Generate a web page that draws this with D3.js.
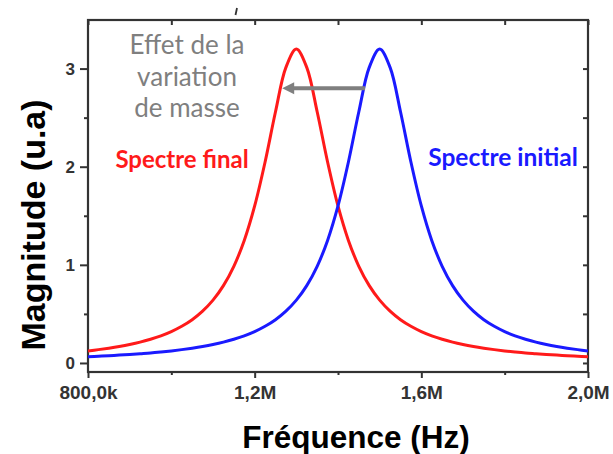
<!DOCTYPE html>
<html>
<head>
<meta charset="utf-8">
<script src="https://cdn.jsdelivr.net/npm/d3@7"></script>
<style>
  html, body { margin: 0; padding: 0; background: #fff; }
  svg { display: block; }
</style>
</head>
<body>
<svg id="chart" width="613" height="454"></svg>
<script>
// Frequency grid (kHz) shared by both spectra
const freqK = [800, 825, 850, 875, 900, 925, 950, 975, 1000, 1025, 1050, 1075,
  1100, 1125, 1150, 1175, 1200, 1225, 1250, 1275, 1300, 1325, 1350, 1375,
  1400, 1425, 1450, 1475, 1500, 1525, 1550, 1575, 1600, 1625, 1650, 1675,
  1700, 1725, 1750, 1775, 1800, 1825, 1850, 1875, 1900, 1925, 1950, 1975, 2000];

// Final spectrum (after mass change), resonance near 1.3 MHz
const finalMag = [0.123, 0.136, 0.151, 0.168, 0.188, 0.212, 0.242, 0.277, 0.320, 0.374, 0.441, 0.528,
  0.640, 0.788, 0.985, 1.249, 1.600, 2.048, 2.560, 3.012, 3.200, 3.012, 2.560, 2.048,
  1.600, 1.249, 0.985, 0.788, 0.640, 0.528, 0.441, 0.374, 0.320, 0.277, 0.242, 0.212,
  0.188, 0.168, 0.151, 0.136, 0.123, 0.112, 0.102, 0.094, 0.086, 0.080, 0.074, 0.069, 0.064];

// Initial spectrum, resonance near 1.5 MHz
const initialMag = [0.064, 0.069, 0.074, 0.080, 0.086, 0.094, 0.102, 0.112, 0.123, 0.136, 0.151, 0.168,
  0.188, 0.212, 0.242, 0.277, 0.320, 0.374, 0.441, 0.528, 0.640, 0.788, 0.985, 1.249,
  1.600, 2.048, 2.560, 3.012, 3.200, 3.012, 2.560, 2.048, 1.600, 1.249, 0.985, 0.788,
  0.640, 0.528, 0.441, 0.374, 0.320, 0.277, 0.242, 0.212, 0.188, 0.168, 0.151, 0.136, 0.123];

// Axis ticks
const xMajorTicks = [800000, 1200000, 1600000, 2000000];
const xTickLabels = ["800,0k", "1,2M", "1,6M", "2,0M"];
const xMinorTicks = [1000000, 1400000, 1800000];
const yMajorTicks = [0, 1, 2, 3];
const yMinorTicks = [0.5, 1.5, 2.5];

// Annotation texts
const shiftNote = ["Effet de la", "variation", "de masse"];
const finalLabel = "Spectre final";
const initialLabel = "Spectre initial";
// Arrow from initial peak flank to final peak flank (Hz, magnitude)
const shiftArrow = { from: [1465000, 2.80], to: [1266000, 2.80] };

const svg = d3.select("#chart");
const plotL = 88, plotR = 588, plotT = 20, plotB = 372;

const x = d3.scaleLinear().domain([800000, 2000000]).range([plotL, plotR]);
const y = d3.scaleLinear().domain([-0.092, 3.495]).range([plotB, plotT]);

const axisColor = "#333";
const tickFont = "'Liberation Sans', Arial, sans-serif";

function styleAxis(size) {
  return g => {
    g.select(".domain").remove();
    g.selectAll("line").attr("stroke", axisColor).attr("stroke-width", 2);
    g.selectAll("text")
      .attr("fill", axisColor)
      .attr("font-family", tickFont)
      .attr("font-weight", "bold")
      .attr("font-size", size);
  };
}

// Bottom axis
svg.append("g").attr("transform", `translate(0,${plotB})`)
  .call(d3.axisBottom(x).tickValues(xMajorTicks).tickSize(6).tickPadding(8)
    .tickFormat((d, i) => xTickLabels[i]))
  .call(styleAxis(19));
svg.append("g").attr("transform", `translate(0,${plotB})`)
  .call(d3.axisBottom(x).tickValues(xMinorTicks).tickSize(3).tickFormat(""))
  .call(styleAxis(19));

// Top axis, ticks inward
svg.append("g").attr("transform", `translate(0,${plotT})`)
  .call(d3.axisTop(x).tickValues(xMajorTicks.concat(xMinorTicks)).tickSize(-5).tickFormat(""))
  .call(styleAxis(19));

// Left axis
svg.append("g").attr("transform", `translate(${plotL},0)`)
  .call(d3.axisLeft(y).tickValues(yMajorTicks).tickSize(8).tickPadding(5).tickFormat(d3.format("d")))
  .call(styleAxis(17));
svg.append("g").attr("transform", `translate(${plotL},0)`)
  .call(d3.axisLeft(y).tickValues(yMinorTicks).tickSize(4).tickFormat(""))
  .call(styleAxis(17));

// Right axis, ticks inward
svg.append("g").attr("transform", `translate(${plotR},0)`)
  .call(d3.axisRight(y).tickValues(yMajorTicks.concat(yMinorTicks)).tickSize(-5).tickFormat(""))
  .call(styleAxis(17));

// Frame
svg.append("rect")
  .attr("x", plotL).attr("y", plotT)
  .attr("width", plotR - plotL).attr("height", plotB - plotT)
  .attr("fill", "none").attr("stroke", axisColor).attr("stroke-width", 2.2);

// Small stray mark above the frame
svg.append("line").attr("x1", 237).attr("y1", 8).attr("x2", 235.5).attr("y2", 15)
  .attr("stroke", axisColor).attr("stroke-width", 1.8);

// Spectra
const clipId = "plotClip";
svg.append("clipPath").attr("id", clipId).append("rect")
  .attr("x", plotL).attr("y", plotT).attr("width", plotR - plotL).attr("height", plotB - plotT);

const line = d3.line()
  .x((d, i) => x(freqK[i] * 1000))
  .y(d => y(d))
  .curve(d3.curveCatmullRom.alpha(0.5));

svg.append("path").datum(finalMag)
  .attr("d", line).attr("fill", "none")
  .attr("stroke", "#ff1a1a").attr("stroke-width", 3)
  .attr("clip-path", `url(#${clipId})`);

svg.append("path").datum(initialMag)
  .attr("d", line).attr("fill", "none")
  .attr("stroke", "#1a1aff").attr("stroke-width", 3)
  .attr("clip-path", `url(#${clipId})`);

// Shift arrow
const ax1 = x(shiftArrow.from[0]), ax2 = x(shiftArrow.to[0]), ay = y(shiftArrow.from[1]);
svg.append("line")
  .attr("x1", ax1).attr("y1", ay).attr("x2", ax2 + 10).attr("y2", ay)
  .attr("stroke", "#7f7f7f").attr("stroke-width", 4);
svg.append("path")
  .attr("d", `M${ax2},${ay} L${ax2 + 12},${ay - 6} L${ax2 + 12},${ay + 6} Z`)
  .attr("fill", "#7f7f7f");

// Annotation text
const noteFont = "Lato, 'Open Sans', sans-serif";
svg.append("g").selectAll("text").data(shiftNote).join("text")
  .attr("x", 187).attr("y", (d, i) => 54 + i * 31.5)
  .attr("text-anchor", "middle")
  .attr("font-family", noteFont).attr("font-size", 26)
  .attr("fill", "#7f7f7f")
  .text(d => d);

svg.append("text")
  .attr("x", 182).attr("y", 168).attr("text-anchor", "middle")
  .attr("font-family", noteFont).attr("font-weight", "bold").attr("font-size", 24)
  .attr("fill", "#ff1a1a").text(finalLabel);

svg.append("text")
  .attr("x", 503).attr("y", 166).attr("text-anchor", "middle")
  .attr("font-family", noteFont).attr("font-weight", "bold").attr("font-size", 24.5)
  .attr("fill", "#1a1aff").text(initialLabel);

// Axis titles
svg.append("text")
  .attr("x", 356).attr("y", 448).attr("text-anchor", "middle")
  .attr("font-family", tickFont).attr("font-weight", "bold").attr("font-size", 31.5)
  .attr("fill", "#000").text("Fréquence (Hz)");

svg.append("text")
  .attr("transform", "translate(45,225) rotate(-90)")
  .attr("text-anchor", "middle")
  .attr("font-family", tickFont).attr("font-weight", "bold").attr("font-size", 34)
  .attr("fill", "#000").text("Magnitude (u.a)");
</script>
</body>
</html>
